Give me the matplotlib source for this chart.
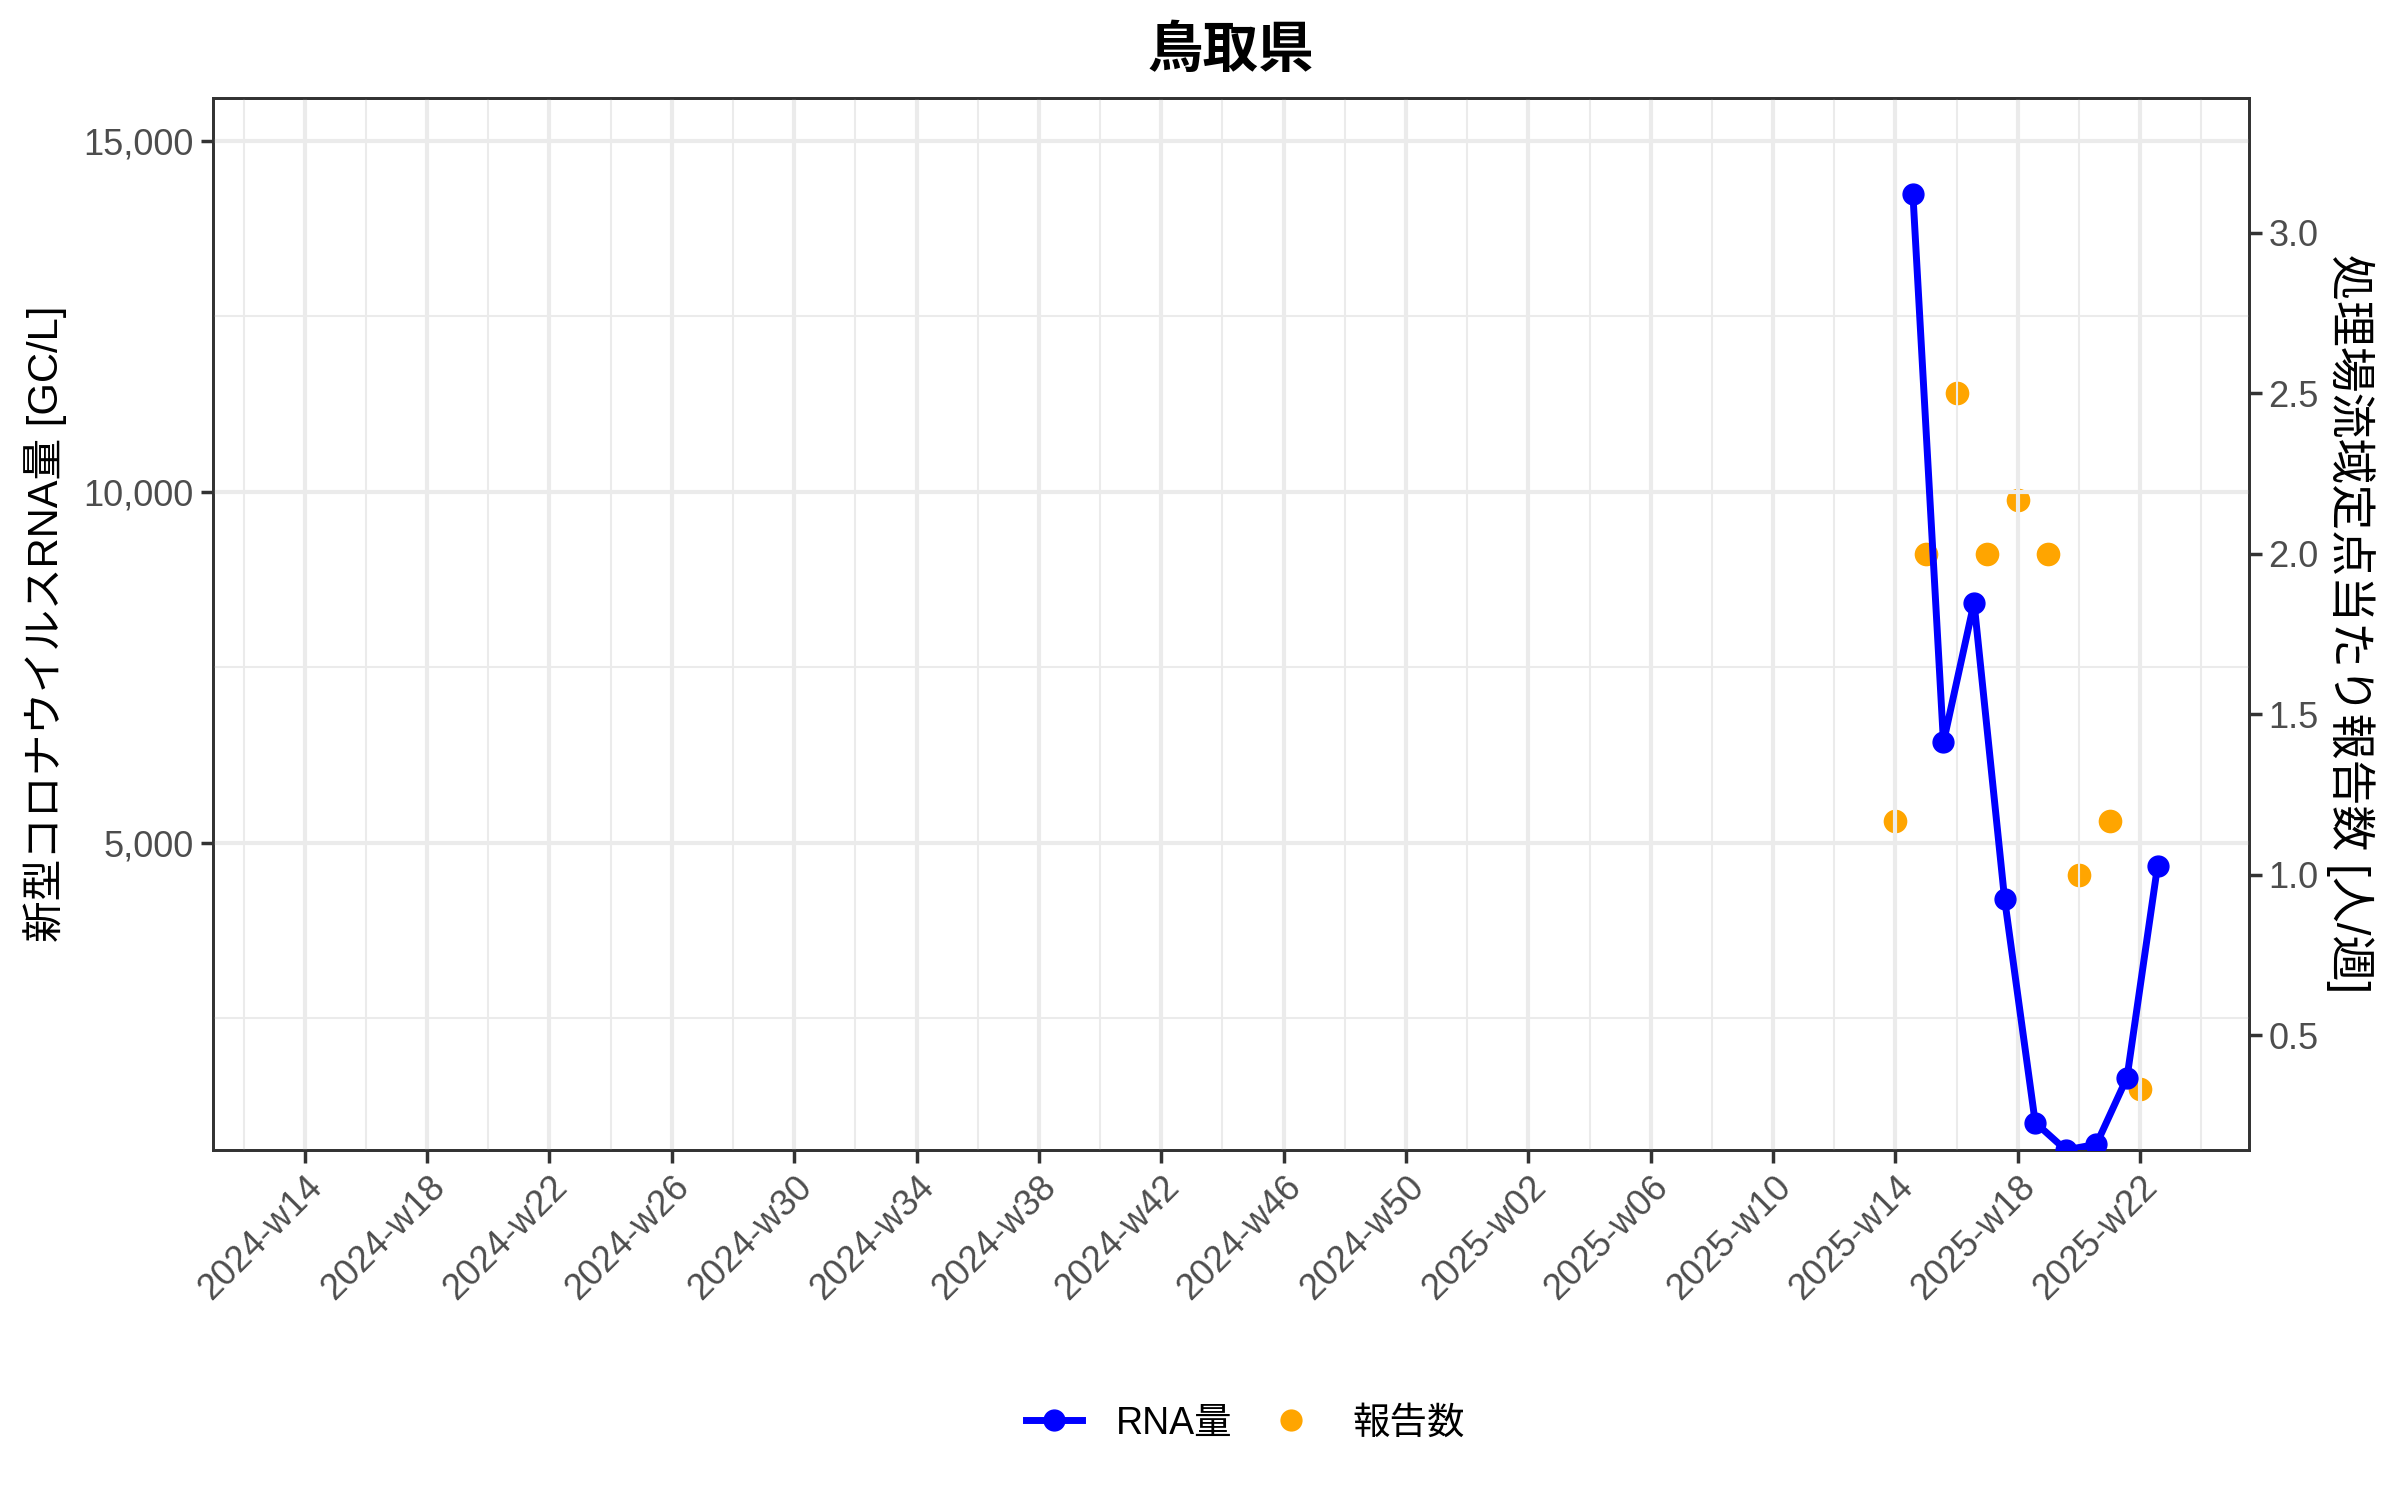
import numpy as np
import pandas as pd
import matplotlib
matplotlib.use("Agg")
import matplotlib.pyplot as plt
from matplotlib.lines import Line2D

plt.rcParams['font.family'] = ['Liberation Sans', 'Noto Sans CJK JP', 'DejaVu Sans']

# data
title = "鳥取県"
rna_dates = ["2025-04-04", "2025-04-11", "2025-04-18", "2025-04-25", "2025-05-02",
             "2025-05-09", "2025-05-16", "2025-05-23", "2025-05-30"]
rna_values = [14250, 6430, 8420, 4190, 1010, 618, 700, 1650, 4670]
report_dates = ["2025-03-31", "2025-04-07", "2025-04-14", "2025-04-21", "2025-04-28",
                "2025-05-05", "2025-05-12", "2025-05-19", "2025-05-26"]
report_values = [1.1667, 2.0, 2.5, 2.0, 2.1667, 2.0, 1.0, 1.1667, 0.3333]

rna_x = pd.to_datetime(rna_dates)
rep_x = pd.to_datetime(report_dates)

fig = plt.figure(figsize=(24, 15), dpi=100)
ax = fig.add_axes([0.08875, 0.23333, 0.84833, 0.70153])
ax2 = ax.twinx()

# blue line on top of orange points
ax.set_zorder(ax2.get_zorder() + 1)
ax.patch.set_visible(False)

ax.plot(rna_x, rna_values, color='#0000FF', lw=5, marker='o', ms=15, zorder=3)
ax2.scatter(rep_x, report_values, color='#FFA500', s=290, zorder=2, linewidths=0)

# x axis: week labels every 4 weeks
major = pd.date_range("2024-04-01", "2025-05-26", freq="28D")
minor = major - pd.Timedelta(days=14)
minor = minor.append(pd.DatetimeIndex([major[-1] + pd.Timedelta(days=14)]))
ax.set_xticks(major)
ax.set_xticks(minor, minor=True)
ax.set_xticklabels([f"{d.isocalendar()[0]}-w{d.isocalendar()[1]:02d}" for d in major],
                   rotation=45, ha='right', va='top', rotation_mode='anchor')
ax.set_xlim(pd.Timestamp("2024-03-11"), pd.Timestamp("2025-06-19 22:00"))

# y axes
ax.set_ylim(618, 15617)
ax.set_yticks([5000, 10000, 15000])
ax.set_yticks([2500, 7500, 12500], minor=True)
ax.set_yticklabels(["5,000", "10,000", "15,000"])
ax2.set_ylim(0.143, 3.42)
ax2.set_yticks([0.5, 1.0, 1.5, 2.0, 2.5, 3.0])
ax2.set_yticklabels(["0.5", "1.0", "1.5", "2.0", "2.5", "3.0"])

ax.grid(which='major', color='#EBEBEB', lw=3)
ax.grid(which='minor', color='#EBEBEB', lw=1.5)
ax.set_axisbelow(True)

for a in (ax, ax2):
    for s in a.spines.values():
        s.set_color('#333333')
        s.set_linewidth(2)
    a.tick_params(which='major', length=9, width=2.5, color='#333333',
                  labelsize=26, labelcolor='#4D4D4D', pad=5)
    a.tick_params(which='minor', length=0)

ax.set_ylabel("新型コロナウイルスRNA量 [GC/L]", fontsize=30, labelpad=12)
ax2.set_ylabel("処理場流域定点当たり報告数 [人/週]", fontsize=33, rotation=-90,
               labelpad=40)
ax.set_title(title, fontsize=40, fontweight='bold', pad=22,
             family=['Noto Sans CJK JP'])

handles = [Line2D([], [], color='#0000FF', lw=5, marker='o', ms=15),
           Line2D([], [], color='#FFA500', lw=0, marker='o', ms=16, markeredgewidth=0)]
fig.legend(handles, ["RNA量", "報告数"], loc='center', bbox_to_anchor=(0.519, 0.051),
           ncol=2, frameon=False, fontsize=27, handlelength=1.5,
           handletextpad=0.9, columnspacing=0.8)

fig.savefig("out.png", dpi=100)
